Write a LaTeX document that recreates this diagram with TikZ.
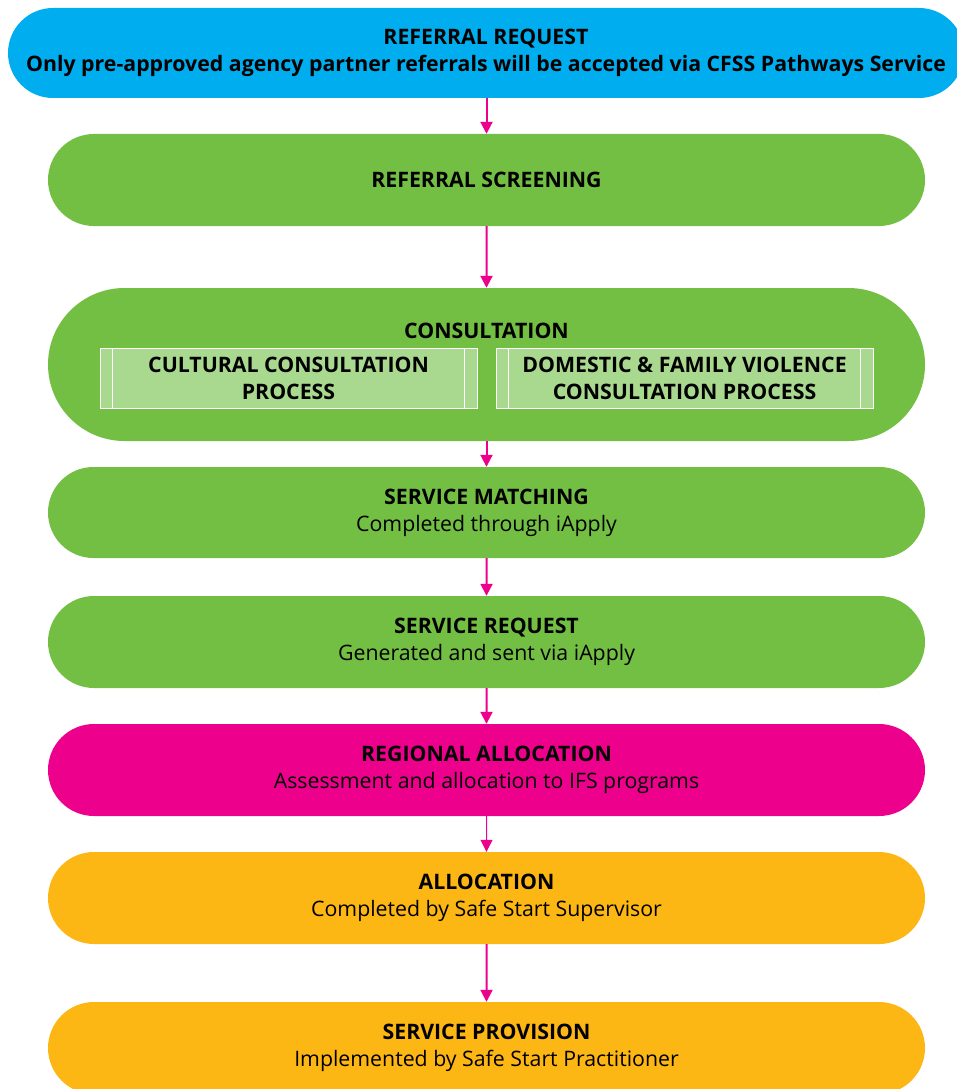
\documentclass[tikz,border=0pt]{standalone}
\usepackage{fontspec}
\setmainfont{Open Sans}
\usepackage{xcolor}
\usetikzlibrary{shapes.misc}
\usetikzlibrary{arrows.meta}
\definecolor{cfssblue}{HTML}{00AEEF}
\definecolor{cfssgreen}{HTML}{72BF44}
\definecolor{cfsslight}{HTML}{A9D98E}
\definecolor{cfsspink}{HTML}{EC008C}
\definecolor{cfssorange}{HTML}{FDB715}
\tikzset{
  stage/.style={rounded rectangle, minimum width=877pt, minimum height=92pt, inner sep=0pt,
    align=center, font=\fontsize{21.3}{27}\selectfont},
  subproc/.style={rectangle, draw=white, line width=0.6pt, fill=cfsslight, minimum width=377pt,
    minimum height=60pt, inner sep=0pt, align=center, font=\fontsize{21.3}{27}\selectfont\bfseries},
  flow/.style={draw=cfsspink, line width=2pt, -{Triangle[length=12pt,width=12pt]}}
}
\begin{document}
\begin{tikzpicture}[x=1pt,y=-1pt]
  \useasboundingbox (0,0) rectangle (956,1089);
  % stages
  \node[stage, fill=cfssblue, minimum width=956pt, minimum height=90pt] (request) at (486,53)
    {\textbf{REFERRAL REQUEST}\\\textbf{Only pre-approved agency partner referrals will be accepted via CFSS Pathways Service}};
  \node[stage, fill=cfssgreen] (screening) at (486.5,180) {\textbf{REFERRAL SCREENING}};
  \node[stage, fill=cfssgreen, minimum height=153pt] (consult) at (486.5,364.5) {};
  \node[font=\fontsize{21.3}{27}\selectfont\bfseries] (consulttitle) at (486.5,331) {CONSULTATION};
  \node[subproc] (cultural) at (288.5,378) {CULTURAL CONSULTATION\\PROCESS};
  \node[subproc] (dfv) at (684.5,378) {DOMESTIC \& FAMILY VIOLENCE\\CONSULTATION PROCESS};
  \foreach \p in {cultural,dfv} {
    \draw[white, line width=0.6pt] ([xshift=13pt]\p.north west) -- ([xshift=13pt]\p.south west);
    \draw[white, line width=0.6pt] ([xshift=-13pt]\p.north east) -- ([xshift=-13pt]\p.south east);
  }
  \node[stage, fill=cfssgreen, minimum height=91pt] (matching) at (486.5,512.5)
    {\textbf{SERVICE MATCHING}\\Completed through iApply};
  \node[stage, fill=cfssgreen] (servreq) at (486.5,642)
    {\textbf{SERVICE REQUEST}\\Generated and sent via iApply};
  \node[stage, fill=cfsspink] (regional) at (486.5,770)
    {\textbf{REGIONAL ALLOCATION}\\Assessment and allocation to IFS programs};
  \node[stage, fill=cfssorange] (alloc) at (486.5,898)
    {\textbf{ALLOCATION}\\Completed by Safe Start Supervisor};
  \node[stage, fill=cfssorange] (provision) at (486.5,1048)
    {\textbf{SERVICE PROVISION}\\Implemented by Safe Start Practitioner};
  % arrows
  \draw[flow] (request.south -| screening) -- (screening.north);
  \draw[flow] (screening) -- (consult);
  \draw[flow] (consult) -- (matching);
  \draw[flow] (matching) -- (servreq);
  \draw[flow] (servreq) -- (regional);
  \draw[flow, line width=1pt] (regional) -- (alloc);
  \draw[flow] (alloc) -- (provision);
\end{tikzpicture}
\end{document}
